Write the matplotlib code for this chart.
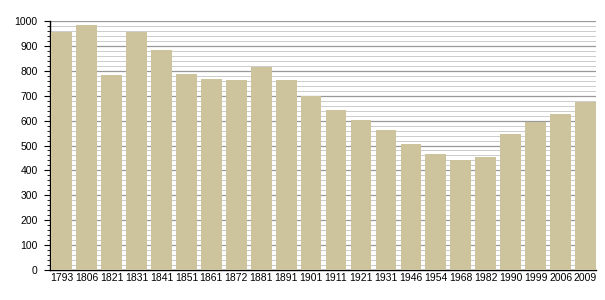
import matplotlib
matplotlib.use("Agg")
import matplotlib.pyplot as plt
from matplotlib.ticker import MultipleLocator

years = ["1793", "1806", "1821", "1831", "1841", "1851", "1861", "1872", "1881", "1891",
         "1901", "1911", "1921", "1931", "1946", "1954", "1968", "1982", "1990", "1999",
         "2006", "2009"]
population = [956, 982, 782, 957, 883, 788, 767, 762, 815, 763,
              699, 643, 602, 561, 506, 467, 442, 453, 547, 596,
              628, 676]

plt.rcParams["font.family"] = ["Liberation Sans", "DejaVu Sans"]

fig = plt.figure(figsize=(6.05, 3.0), dpi=100)
ax = fig.add_axes([0.083, 0.1, 0.902, 0.83])

x = range(len(years))
ax.bar(x, population, width=0.83, color="#cdc39c", zorder=3)

ax.set_ylim(0, 1000)
ax.set_xlim(-0.46, len(years) - 0.58)
ax.set_xticks(list(x))
ax.set_xticklabels(years, fontsize=7.5)
ax.yaxis.set_major_locator(MultipleLocator(100))
ax.yaxis.set_minor_locator(MultipleLocator(20))
ax.tick_params(axis="y", labelsize=7.5, length=4, width=0.8, direction="out", pad=5)
ax.tick_params(axis="y", which="minor", length=2.5, width=0.6, direction="out")
ax.tick_params(axis="x", length=0, pad=2)

ax.grid(axis="y", which="major", color="#999999", lw=0.9, zorder=0)
ax.grid(axis="y", which="minor", color="#cccccc", lw=0.7, zorder=0)
ax.set_axisbelow(True)

for s in ("top", "right"):
    ax.spines[s].set_visible(False)
ax.spines["left"].set_linewidth(1.0)
ax.spines["bottom"].set_linewidth(1.0)

fig.savefig("out.png", dpi=100)
